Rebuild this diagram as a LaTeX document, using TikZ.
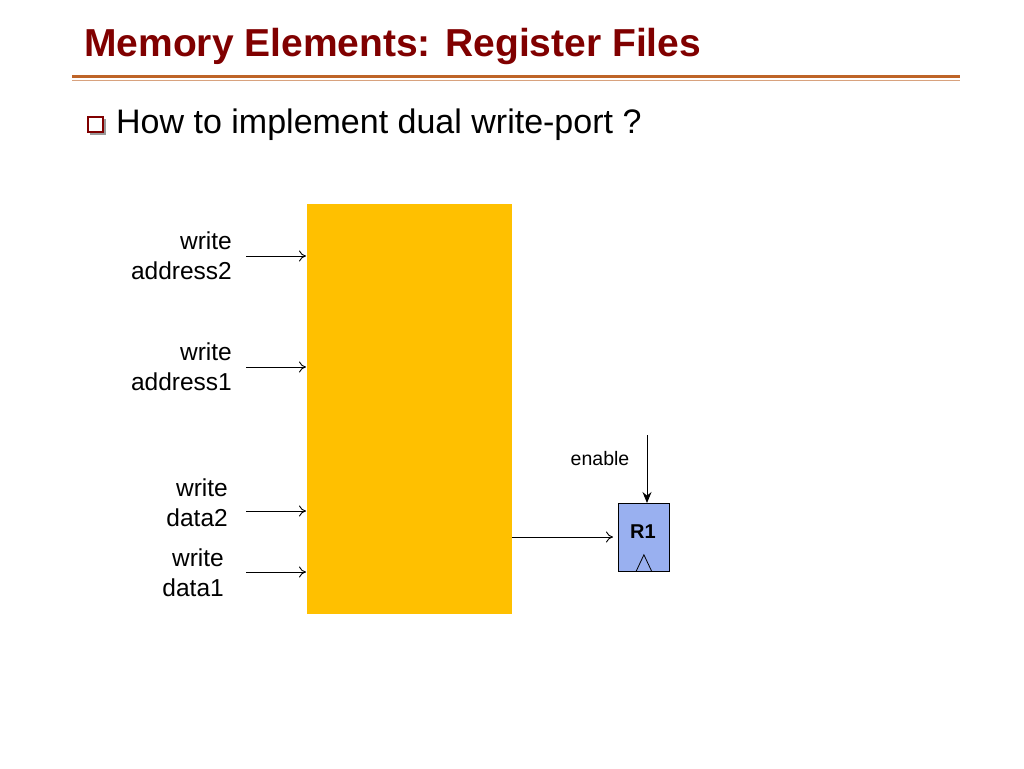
\documentclass[tikz,border=0pt]{standalone}
\usepackage{fontspec}
\setmainfont{Liberation Sans}
\usetikzlibrary{arrows.meta}
\definecolor{titred}{RGB}{128,0,0}
\definecolor{rule}{RGB}{190,100,40}
\definecolor{gold}{RGB}{255,192,0}
\definecolor{regblue}{RGB}{153,176,240}
\begin{document}
\begin{tikzpicture}[x=1pt,y=-1pt,
  lbl/.style={font=\fontsize{24.5}{30}\selectfont,align=right,anchor=east,inner sep=0pt},
  arr/.style={-{To[length=7pt,width=11pt]},line width=0.9pt},
  sarr/.style={-{Stealth[length=11pt,width=9pt]},line width=1pt}]
\useasboundingbox (0,0) rectangle (1024,768);
\node[anchor=west,inner sep=0pt,text=titred,font=\fontsize{39}{44}\selectfont\bfseries] (title) at (84,47) {Memory Elements: Register Files};
\draw[rule,line width=3pt] (72,76.5) -- (960,76.5);
\draw[rule!60,line width=0.6pt] (72,80) -- (960,80);
\fill[black!40] (90,119) rectangle (106,135);
\draw[titred,line width=1.2pt,fill=white] (88,117) rectangle (103,132);
\node[anchor=west,inner sep=0pt,font=\fontsize{34}{40}\selectfont] (q) at (116,125) {How to implement dual write-port ?};
\node[fill=gold,minimum width=205,minimum height=410,inner sep=0pt,anchor=north west] (rf) at (307,204) {};
\node[lbl] (wa2) at (232,256) {write\\address2};
\node[lbl] (wa1) at (232,367) {write\\address1};
\node[lbl] (wd2) at (228,503) {write\\data2};
\node[lbl] (wd1) at (224,573) {write\\data1};
\coordinate (a2s) at (246,256); \coordinate (a2e) at (306,256);
\coordinate (a1s) at (246,367); \coordinate (a1e) at (306,367);
\coordinate (d2s) at (246,511); \coordinate (d2e) at (306,511);
\coordinate (d1s) at (246,572); \coordinate (d1e) at (306,572);
\draw[arr] (a2s) -- (a2e);
\draw[arr] (a1s) -- (a1e);
\draw[arr] (d2s) -- (d2e);
\draw[arr] (d1s) -- (d1e);
\node[draw,fill=regblue,minimum width=51,minimum height=68,inner sep=0pt,anchor=north west,line width=0.8pt] (r1) at (618,503) {};
\node[font=\fontsize{20}{24}\selectfont\bfseries] (r1t) at (643,532) {R1};
\draw[line width=0.8pt] ([xshift=-8]r1.south) -- ([yshift=17]r1.south) -- ([xshift=8]r1.south);
\coordinate (rfo) at (512,537);
\draw[arr] (rfo) -- (613,537);
\node[font=\fontsize{19.5}{24}\selectfont] (en) at (600,459) {enable};
\coordinate (ens) at (647,435);
\draw[sarr] (ens) -- (r1.north -| ens);
\end{tikzpicture}
\end{document}
